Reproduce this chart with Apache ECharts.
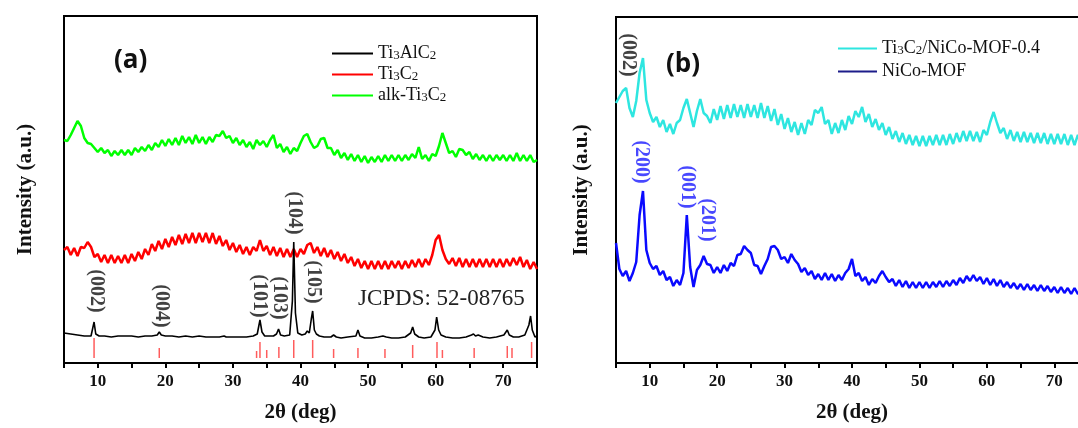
<!DOCTYPE html>
<html>
<head>
<meta charset="utf-8">
<script src="https://cdn.jsdelivr.net/npm/echarts/dist/echarts.min.js"></script>
<style>
  html, body { margin: 0; padding: 0; background: #fff; }
  #main { width: 1078px; height: 428px; }
</style>
</head>
<body>
<div id="main"></div>
<script>
// 2theta scan step (deg) shared by the noisy patterns
var scanStart = 5, scanEnd = 75, scanStep = 0.5;
var twoTheta = [];
for (var t = scanStart; t <= scanEnd + 1e-9; t += scanStep) twoTheta.push(+t.toFixed(2));

// (a) alk-Ti3C2, intensity a.u.
var alkTi3C2 = [
  223, 222, 228, 235, 242, 237, 225, 220, 219, 215,
  211, 215, 210, 213, 207, 212, 208, 213, 208, 213,
  208, 215, 211, 216, 212, 218, 213, 220, 216, 223,
  217, 224, 218, 225, 218, 227, 220, 226, 219, 228,
  220, 226, 219, 226, 221, 228, 227, 232, 225, 227,
  220, 225, 218, 223, 216, 221, 214, 223, 218, 222,
  216, 223, 228, 215, 219, 211, 216, 209, 215, 212,
  220, 227, 229, 221, 215, 217, 224, 225, 215, 215,
  208, 213, 205, 210, 203, 209, 202, 208, 201, 207,
  200, 206, 201, 207, 201, 208, 202, 208, 202, 208,
  202, 208, 203, 209, 205, 216, 204, 208, 202, 209,
  207, 217, 230, 220, 210, 212, 206, 214, 213, 208,
  211, 204, 209, 203, 208, 202, 208, 202, 208, 203,
  208, 202, 208, 202, 210, 202, 208, 202, 208, 201,
  203
];

// (a) Ti3C2
var ti3C2 = [
  113, 116, 108, 115, 107, 116, 115, 121, 116, 106,
  109, 101, 108, 100, 108, 100, 107, 100, 108, 100,
  109, 102, 111, 104, 114, 108, 119, 112, 122, 114,
  124, 116, 126, 118, 128, 119, 129, 120, 130, 120,
  130, 121, 130, 120, 130, 119, 127, 117, 123, 113,
  120, 111, 118, 109, 116, 108, 116, 112, 123, 112,
  117, 108, 116, 107, 115, 106, 114, 106, 114, 106,
  114, 109, 118, 120, 110, 116, 107, 115, 106, 113,
  104, 111, 102, 109, 100, 106, 97, 104, 95, 102,
  94, 102, 94, 102, 94, 102, 94, 102, 95, 102,
  94, 102, 95, 103, 96, 104, 96, 104, 98, 108,
  123, 128, 113, 104, 99, 105, 97, 105, 96, 104,
  96, 104, 96, 104, 96, 104, 96, 104, 96, 104,
  96, 104, 97, 105, 98, 106, 96, 103, 94, 101,
  94
];

// (a) Ti3AlC2, sharper peaks so its own angles
var ti3AlC2X = [5, 6, 7, 8, 9, 9.2, 9.45, 9.7, 10.2, 11, 12, 13, 14, 15, 16, 17, 18, 18.8, 19.1, 19.4,
  20, 21, 22, 23, 24, 25, 26, 27, 28, 28.7, 29, 30, 31, 32, 33, 33.6, 34.0, 34.3, 34.7, 35.2,
  36, 36.45, 36.75, 37.05, 37.6, 38.4, 38.8, 39.0, 39.25, 39.6, 40.2, 40.7, 41.0, 41.3, 41.6, 41.8,
  42.05, 42.35, 42.8, 43.5, 44.5, 44.9, 45.3, 46, 47, 48.2, 48.5, 48.8, 49.5, 50.5, 51.5, 52.2,
  52.45, 52.7, 53.5, 54.5, 55.5, 56.3, 56.6, 56.9, 57.5, 58.3, 59.3, 59.9, 60.15, 60.45, 60.8, 61.5,
  62.5, 63.5, 64.5, 65.3, 65.6, 65.9, 66.3, 67, 68, 69, 70.1, 70.35, 70.6, 70.9, 71.5, 72.3, 73.2,
  73.8, 74.05, 74.3, 74.7, 75];
var ti3AlC2 = [30, 29, 28, 27, 27, 29, 41, 29, 27, 27, 26, 27, 27, 27, 26, 27, 27, 28, 31, 28,
  27, 27, 26, 27, 26, 27, 26, 26, 26, 27, 26, 26, 26, 26, 27, 29, 43, 31, 27, 27,
  27, 29, 34, 28, 27, 28, 62, 121, 50, 30, 28, 29, 32, 30, 44, 52,
  33, 29, 27, 26, 26, 28, 26, 25, 26, 27, 33, 27, 25, 25, 26, 27,
  29, 26, 25, 25, 26, 30, 36, 29, 26, 25, 26, 33, 46, 33, 28, 26,
  25, 25, 26, 28, 29, 27, 28, 26, 25, 26, 28, 29, 33, 28, 26, 26, 28,
  38, 47, 33, 26, 27];

// (a) JCPDS 52-0875 reference lines
var jcpdsX = [9.45, 19.1, 33.5, 34.0, 35.0, 36.8, 39.0, 41.8, 44.9, 48.5, 52.5, 56.6, 60.2, 61.0, 65.7, 70.6, 71.3, 74.2];
var jcpdsH = [25, 15, 12, 21, 13, 16, 23, 23, 14, 15, 14, 18, 21, 13, 15, 17, 15, 21];
var jcpdsBase = 5;

// (b) Ti3C2/NiCo-MOF-0.4
var compositeMOF = [
  260, 266, 272, 275, 255, 246, 262, 290, 305, 263,
  250, 241, 246, 236, 243, 231, 239, 229, 240, 243,
  255, 264, 250, 236, 252, 264, 250, 247, 240, 254,
  243, 257, 244, 258, 245, 259, 246, 258, 245, 259,
  246, 258, 245, 260, 245, 257, 242, 254, 238, 249,
  234, 245, 231, 241, 228, 240, 229, 243, 238, 253,
  250, 256, 239, 243, 229, 240, 230, 243, 233, 247,
  239, 252, 246, 256, 241, 249, 236, 244, 233, 240,
  228, 236, 224, 232, 221, 230, 219, 228, 218, 227,
  217, 227, 217, 227, 218, 228, 218, 228, 218, 229,
  219, 230, 221, 232, 222, 232, 222, 231, 221, 233,
  228, 241, 251, 240, 230, 235, 224, 233, 222, 231,
  221, 231, 221, 230, 220, 230, 220, 230, 219, 229,
  219, 229, 219, 229, 218, 228, 218, 228, 218, 228,
  218
];

// (b) NiCo-MOF
var nicoMOF = [
  120, 94, 87, 92, 82, 90, 101, 148, 172, 113,
  100, 94, 97, 88, 92, 83, 86, 77, 83, 78,
  90, 148, 96, 76, 93, 98, 107, 99, 98, 90,
  96, 90, 98, 92, 100, 97, 108, 109, 117, 113,
  110, 98, 97, 89, 97, 104, 116, 117, 113, 104,
  106, 100, 109, 103, 99, 91, 95, 88, 92, 84,
  89, 83, 90, 83, 89, 82, 88, 83, 90, 94,
  104, 87, 90, 82, 86, 78, 84, 80, 87, 92,
  86, 81, 84, 77, 83, 76, 82, 75, 81, 75,
  81, 75, 81, 75, 81, 76, 82, 76, 82, 77,
  83, 78, 85, 80, 87, 82, 88, 82, 86, 79,
  85, 78, 84, 77, 83, 76, 81, 75, 80, 74,
  79, 73, 79, 73, 78, 72, 78, 72, 77, 71,
  76, 70, 76, 70, 75, 69, 75, 69, 74, 68,
  73
];

// peak indexing: [2theta, label position (a.u.), text]
var hklA = [[9.7, 72, '(002)'], [19.4, 57, '(004)'], [33.9, 67, '(101)'], [36.85, 65, '(103)'], [39.1, 150, '(104)'], [41.9, 81, '(105)']];
var hklB = [[6.85, 308, '(002)'], [8.78, 201, '(200)'], [15.6, 176, '(001)'], [18.55, 143, '(201)']];
var hklBColors = ['#111', '#1a1aff', '#1a1aff', '#1a1aff'];

var legendRich = {
  'Ti3AlC2': '{n|Ti}{s|3}{n|AlC}{s|2}',
  'Ti3C2': '{n|Ti}{s|3}{n|C}{s|2}',
  'alk-Ti3C2': '{n|alk-Ti}{s|3}{n|C}{s|2}',
  'Ti3C2/NiCo-MOF-0.4': '{n|Ti}{s|3}{n|C}{s|2}{n|/NiCo-MOF-0.4}',
  'NiCo-MOF': '{n|NiCo-MOF}'
};

function pairs(xs, ys) {
  return xs.map(function (x, i) { return [x, ys[i]]; });
}

var serif = 'Liberation Serif';
var richStyle = {
  n: { fontFamily: serif, fontSize: 18, color: '#111' },
  s: { fontFamily: serif, fontSize: 13, color: '#111', padding: [5, 0, 0, 0] }
};

function xAxisFor(idx) {
  return {
    type: 'value', gridIndex: idx, min: 5, max: 75, interval: 5,
    name: '2θ (deg)', nameLocation: 'middle', nameGap: 39,
    nameTextStyle: { fontFamily: serif, fontWeight: 'bold', fontSize: 21, color: '#111' },
    axisLine: { show: false },
    axisTick: { show: true, inside: false, length: 5, lineStyle: { color: '#000', width: 2 } },
    axisLabel: {
      margin: 10, fontFamily: serif, fontWeight: 'bold', fontSize: 17, color: '#111',
      formatter: function (v) { return (v % 10 === 0 && v > 5 && v < 75) ? v : ''; }
    },
    splitLine: { show: false }
  };
}

function yAxisFor(idx, max, gap) {
  return {
    type: 'value', gridIndex: idx, min: 0, max: max,
    name: 'Intensity (a.u.)', nameLocation: 'middle', nameGap: gap, nameRotate: 90,
    nameTextStyle: { fontFamily: serif, fontWeight: 'bold', fontSize: 21, color: '#111' },
    axisLine: { show: false }, axisTick: { show: false }, axisLabel: { show: false },
    splitLine: { show: false }
  };
}

function lineSeries(name, data, color, xi, width) {
  return {
    name: name, type: 'line', xAxisIndex: xi, yAxisIndex: xi, data: data,
    showSymbol: false, symbol: 'none', silent: true,
    lineStyle: { color: color, width: width || 2.5 }, itemStyle: { color: color }
  };
}

function hklSeries(list, xi, colors) {
  return {
    type: 'scatter', xAxisIndex: xi, yAxisIndex: xi, symbolSize: 0, silent: true,
    data: list.map(function (d, i) {
      return { value: d, label: { color: colors ? colors[i] : '#111' } };
    }),
    label: {
      show: true, position: 'inside', rotate: -90,
      fontFamily: serif, fontWeight: 'bold', fontSize: 20,
      formatter: function (p) { return p.data.value[2]; }
    }
  };
}

var myChart = echarts.init(document.getElementById('main'));

var option = {
  animation: false,
  backgroundColor: '#fff',
  title: [
    { text: '(a)', left: 109, top: 43, textStyle: { fontFamily: 'Open Sans', fontWeight: 'bold', fontSize: 26, color: '#111' } },
    { text: '(b)', left: 661, top: 47, textStyle: { fontFamily: 'Open Sans', fontWeight: 'bold', fontSize: 26, color: '#111' } }
  ],
  legend: [
    {
      left: 327, top: 38, orient: 'vertical', itemWidth: 41, itemHeight: 2, itemGap: 0, icon: 'rect',
      data: ['Ti3AlC2', 'Ti3C2', 'alk-Ti3C2'],
      formatter: function (n) { return legendRich[n]; },
      textStyle: { lineHeight: 21, rich: richStyle }
    },
    {
      left: 833, top: 32, orient: 'vertical', itemWidth: 39, itemHeight: 2, itemGap: 0, icon: 'rect',
      data: ['Ti3C2/NiCo-MOF-0.4', { name: 'NiCo-MOF', itemStyle: { color: '#1c1c8a' } }],
      formatter: function (n) { return legendRich[n]; },
      textStyle: { lineHeight: 23, rich: richStyle }
    }
  ],
  grid: [
    { left: 64, top: 16, width: 473, height: 347, show: true, borderColor: '#000', borderWidth: 2, outerBoundsMode: 'none', containLabel: false },
    // panel (b) runs past the right edge of the picture
    { left: 616, top: 17, width: 472, height: 346, show: true, borderColor: '#000', borderWidth: 2, outerBoundsMode: 'none', containLabel: false }
  ],
  xAxis: [xAxisFor(0), xAxisFor(1)],
  yAxis: [yAxisFor(0, 347, 28), yAxisFor(1, 346, 24)],
  graphic: [
    { type: 'text', left: 358, top: 287, style: { text: 'JCPDS: 52-08765', fontFamily: serif, fontSize: 23, fill: '#222' } }
  ],
  series: [
    lineSeries('alk-Ti3C2', pairs(twoTheta, alkTi3C2), '#00ff00', 0),
    lineSeries('Ti3C2', pairs(twoTheta, ti3C2), '#ff0000', 0),
    {
      type: 'custom', xAxisIndex: 0, yAxisIndex: 0, silent: true,
      data: pairs(jcpdsX, jcpdsH),
      renderItem: function (params, api) {
        var p0 = api.coord([api.value(0), jcpdsBase]);
        var p1 = api.coord([api.value(0), api.value(1)]);
        return { type: 'line', shape: { x1: p0[0], y1: p0[1], x2: p1[0], y2: p1[1] },
          style: { stroke: '#ff5c5c', lineWidth: 1.5 } };
      }
    },
    lineSeries('Ti3AlC2', pairs(ti3AlC2X, ti3AlC2), '#000000', 0, 1.6),
    hklSeries(hklA, 0),
    lineSeries('Ti3C2/NiCo-MOF-0.4', pairs(twoTheta, compositeMOF), '#2ee6e0', 1),
    lineSeries('NiCo-MOF', pairs(twoTheta, nicoMOF), '#0a0aff', 1),
    hklSeries(hklB, 1, hklBColors)
  ]
};

myChart.setOption(option);
</script>
</body>
</html>
